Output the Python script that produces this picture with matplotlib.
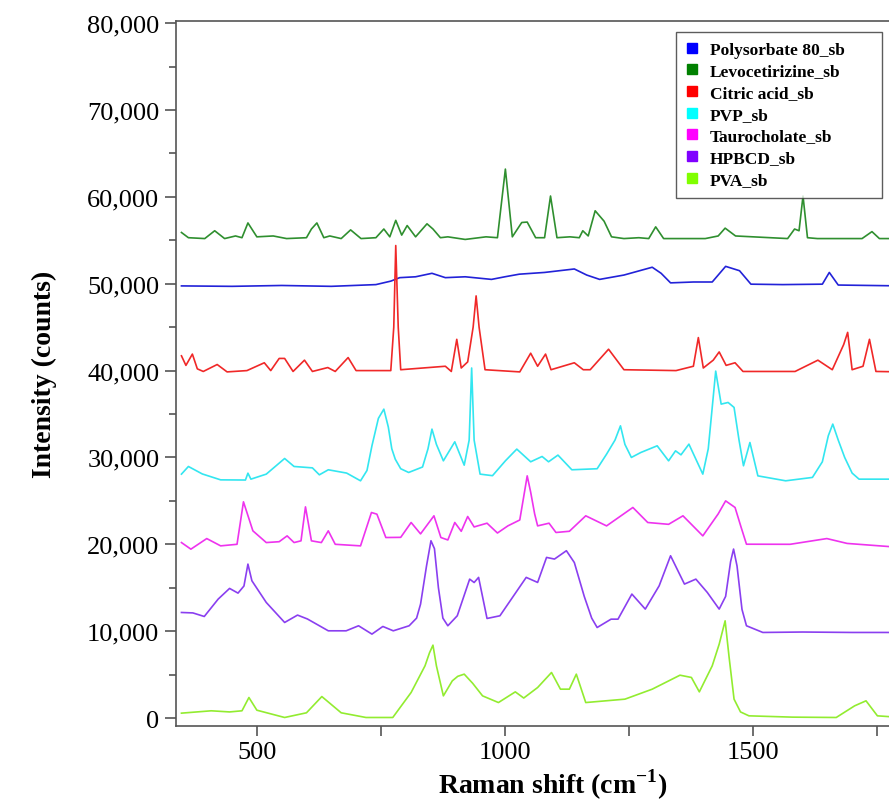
import numpy as np
import matplotlib
matplotlib.use("Agg")
import matplotlib.pyplot as plt
from matplotlib.lines import Line2D
from matplotlib.ticker import FuncFormatter, MultipleLocator

plt.rcParams['font.family'] = ['Liberation Serif', 'DejaVu Serif']
plt.rcParams['mathtext.fontset'] = 'custom'
plt.rcParams['mathtext.rm'] = 'Liberation Serif'
plt.rcParams['mathtext.bf'] = 'Liberation Serif:bold'

# spectra: Raman shift (cm-1) and intensity (counts)
levo_x = [348, 362, 395, 415, 435, 457, 470, 482, 500, 533, 560, 600, 610, 621, 635, 647, 670, 689, 710,
          740, 756, 768, 780, 792, 803, 820, 843, 855, 870, 885, 920, 962, 985, 1001, 1015, 1034, 1045, 1062,
          1080, 1092, 1105, 1131, 1150, 1157, 1168, 1182, 1200, 1215, 1240, 1270, 1290, 1304, 1320, 1404,
          1430, 1444, 1465, 1570, 1584, 1593, 1601, 1610, 1630, 1720, 1740, 1755, 1800]
levo_y = [55900, 55300, 55200, 56100, 55200, 55500, 55300, 57000, 55400, 55500, 55200, 55300, 56300, 57000,
          55300, 55500, 55200, 56200, 55200, 55300, 56300, 55400, 57300, 55600, 56700, 55400, 56900, 56300,
          55300, 55400, 55100, 55400, 55300, 63200, 55400, 57050, 57100, 55300, 55300, 60100, 55300, 55400,
          55300, 56100, 55500, 58400, 57200, 55400, 55200, 55300, 55200, 56550, 55200, 55200, 55500, 56400,
          55500, 55200, 56300, 56100, 60100, 55300, 55200, 55200, 56000, 55200, 55200]

poly_x = [348, 450, 550, 650, 740, 770, 788, 820, 853, 880, 920, 973, 1000, 1029, 1080, 1140, 1165, 1191,
          1240, 1297, 1315, 1334, 1380, 1418, 1445, 1473, 1496, 1560, 1640, 1654, 1672, 1800]
poly_y = [49750, 49700, 49800, 49700, 49900, 50300, 50700, 50800, 51200, 50700, 50800, 50500, 50800, 51100,
          51300, 51700, 51000, 50500, 51000, 51900, 51200, 50100, 50200, 50200, 52000, 51500, 49950, 49900,
          49950, 51300, 49850, 49750]

citric_x = [348, 357, 370, 380, 392, 420, 440, 480, 515, 528, 545, 556, 573, 596, 612, 643, 658, 684, 700,
            770, 776, 780, 785, 790, 880, 892, 903, 912, 925, 936, 942, 948, 960, 1030, 1052, 1066, 1082, 1093,
            1140, 1158, 1172, 1209, 1240, 1345, 1380, 1390, 1400, 1420, 1432, 1446, 1464, 1480, 1585, 1631,
            1660, 1683, 1691, 1700, 1722, 1735, 1748, 1800]
citric_y = [41700, 40600, 41900, 40200, 39900, 40700, 39850, 40000, 40900, 40000, 41400, 41400, 39900, 41200,
            39900, 40350, 39900, 41500, 40000, 40000, 45000, 54400, 45000, 40100, 40500, 39900, 43600, 40300,
            41000, 45000, 48600, 45000, 40100, 39850, 42000, 40500, 41900, 40100, 40900, 40100, 40100, 42460,
            40100, 40000, 40500, 43800, 40300, 41200, 42150, 40600, 40900, 39900, 39900, 41200, 40100, 43000,
            44400, 40100, 40500, 43600, 39900, 39850]

pvp_x = [348, 362, 390, 427, 477, 482, 488, 519, 556, 575, 612, 626, 644, 681, 709, 722, 732, 745, 756, 765,
         772, 779, 790, 806, 834, 845, 853, 862, 876, 899, 918, 928, 933, 938, 950, 975, 1001, 1024, 1052,
         1075, 1088, 1107, 1135, 1186, 1205, 1222, 1233, 1242, 1255, 1274, 1307, 1330, 1344, 1355, 1371,
         1399, 1410, 1425, 1436, 1450, 1462, 1472, 1481, 1494, 1510, 1566, 1620, 1640, 1652, 1661, 1672,
         1685, 1700, 1714, 1800]
pvp_y = [28080, 28960, 28100, 27420, 27400, 28190, 27500, 28080, 29880, 28960, 28800, 28000, 28580, 28200,
         27310, 28500, 31340, 34500, 35560, 33500, 31000, 29800, 28700, 28270, 28900, 31000, 33260, 31500,
         29610, 31800, 29110, 32000, 40300, 32000, 28080, 27900, 29610, 30960, 29500, 30110, 29500, 30270,
         28580, 28700, 30380, 32000, 33640, 31500, 30000, 30570, 31340, 29610, 30760, 30300, 31530, 28080,
         31000, 39940, 36140, 36330, 35760, 32000, 29040, 31720, 27880, 27310, 27700, 29500, 32500, 33840,
         32000, 30000, 28200, 27500, 27500]

tauro_x = [348, 367, 399, 427, 460, 473, 492, 519, 545, 561, 575, 589, 598, 610, 630, 644, 658, 709, 731, 742,
           760, 790, 811, 830, 857, 871, 885, 899, 912, 925, 938, 964, 985, 1006, 1030, 1038, 1045, 1052, 1060,
           1066, 1089, 1103, 1130, 1163, 1205, 1258, 1288, 1330, 1359, 1399, 1430, 1445, 1464, 1476, 1487,
           1575, 1649, 1690, 1800]
tauro_y = [20200, 19440, 20660, 19820, 20000, 24890, 21550, 20200, 20300, 20970, 20200, 20400, 24310, 20400,
           20200, 21550, 20000, 19820, 23660, 23470, 20780, 20800, 22510, 21200, 23280, 20780, 20500, 22510,
           21500, 23200, 22000, 22430, 21300, 22120, 22800, 25500, 27880, 26000, 23500, 22120, 22430, 21360,
           21500, 23280, 22120, 24240, 22510, 22300, 23280, 20970, 23500, 25000, 24240, 22000, 20010, 20000,
           20660, 20100, 19630]

hpbcd_x = [348, 371, 394, 422, 445, 462, 474, 482, 490, 519, 556, 582, 602, 644, 680, 705, 732, 754, 775,
           807, 822, 830, 842, 851, 858, 866, 875, 885, 904, 929, 938, 947, 964, 990, 1043, 1066, 1084, 1100,
           1124, 1140, 1160, 1175, 1186, 1214, 1228, 1256, 1283, 1311, 1334, 1362, 1385, 1408, 1432, 1445,
           1455, 1461, 1468, 1478, 1487, 1520, 1600, 1700, 1800]
hpbcd_y = [12150, 12100, 11690, 13690, 14920, 14380, 15200, 17720, 15800, 13300, 11000, 11850, 11400, 10040,
           10040, 10620, 9660, 10540, 10040, 10620, 11500, 13110, 17500, 20410, 19500, 15000, 11500, 10620,
           11770, 15990, 15600, 16190, 11460, 11770, 16190, 15610, 18490, 18300, 19260, 17900, 14000, 11500,
           10420, 11380, 11380, 14270, 12540, 15220, 18680, 15420, 15990, 14460, 12540, 14000, 18000, 19450,
           17500, 12500, 10620, 9850, 9900, 9850, 9850]

pva_x = [348, 408, 445, 470, 484, 500, 556, 600, 631, 670, 720, 774, 811, 839, 848, 855, 862, 876, 894, 905,
         918, 935, 955, 987, 1021, 1038, 1066, 1094, 1112, 1130, 1144, 1163, 1242, 1297, 1353, 1376, 1392,
         1418, 1432, 1444, 1452, 1462, 1475, 1492, 1580, 1668, 1705, 1728, 1751, 1800]
pva_y = [560, 830, 700, 830, 2360, 900, 60, 600, 2470, 600, 60, 60, 2940, 6010, 7500, 8390, 6000, 2550, 4280,
         4800, 5050, 4000, 2550, 1780, 3010, 2300, 3510, 5240, 3320, 3320, 5050, 1780, 2170, 3320, 4930, 4670,
         3010, 6010, 8500, 11190, 7000, 2170, 700, 250, 100, 60, 1400, 1980, 250, 60]

names = ['Polysorbate 80_sb', 'Levocetirizine_sb', 'Citric acid_sb', 'PVP_sb',
         'Taurocholate_sb', 'HPBCD_sb', 'PVA_sb']
marker_colors = ['#0000ff', '#008000', '#ff0000', '#00ffff', '#ff00ff', '#8000ff', '#80ff00']
line_colors = ['#2222d8', '#2f8f2f', '#f02828', '#33e6f0', '#ee33ee', '#8a3ff0', '#92ec30']
series = [(poly_x, poly_y), (levo_x, levo_y), (citric_x, citric_y), (pvp_x, pvp_y),
          (tauro_x, tauro_y), (hpbcd_x, hpbcd_y), (pva_x, pva_y)]

fig = plt.figure(figsize=(8.89, 8.03), dpi=100)
# the original axes run a little past the right edge of the picture
ax = fig.add_axes([176 / 889, 76 / 803, (930 - 176) / 889, 705 / 803])

for (xs, ys), c in zip(series, line_colors):
    ax.plot(xs, ys, color=c, lw=1.2, solid_joinstyle='round')

ax.set_xlim(337, 1857)
ax.set_ylim(-920, 80250)

ax.xaxis.set_major_locator(MultipleLocator(250))
ax.xaxis.set_major_formatter(FuncFormatter(lambda v, p: '%d' % v if v % 500 == 0 else ''))
ax.yaxis.set_major_locator(MultipleLocator(10000))
ax.yaxis.set_minor_locator(MultipleLocator(5000))
ax.yaxis.set_major_formatter(FuncFormatter(lambda v, p: '{:,.0f}'.format(v)))

for s in ['left', 'bottom', 'top']:
    ax.spines[s].set_color('#555555')
    ax.spines[s].set_linewidth(1.2)
ax.spines['right'].set_visible(False)
ax.tick_params(direction='out', width=1.2, color='#555555', labelsize=19)
ax.tick_params(axis='x', length=7, pad=4)
ax.tick_params(axis='y', which='major', length=8, pad=4)
ax.tick_params(axis='y', which='minor', length=5, width=1.2, color='#555555')

ax.set_xlabel('Raman shift (cm$^{\\mathbf{-1}}$)', fontsize=20, fontweight='bold')
ax.xaxis.set_label_coords((553 - 176) / (930 - 176), -0.057)
ax.set_ylabel('Intensity (counts)', fontsize=20, fontweight='bold', labelpad=22)

handles = [Line2D([], [], marker='s', ls='none', color=c, markersize=7.5) for c in marker_colors]
leg = ax.legend(handles, names, loc='upper left',
                bbox_to_anchor=(676 / 889, 1 - 197 / 803, 206 / 889, 164 / 803), mode='expand',
                borderaxespad=0, bbox_transform=fig.transFigure,
                prop={'family': 'Liberation Serif', 'weight': 'bold', 'size': 12.5},
                frameon=True, fancybox=False, edgecolor='#333333', handlelength=0.8, handletextpad=0.6,
                labelspacing=0.32, borderpad=0.55)
leg.get_frame().set_linewidth(1.0)

fig.savefig('out.png', dpi=100)
